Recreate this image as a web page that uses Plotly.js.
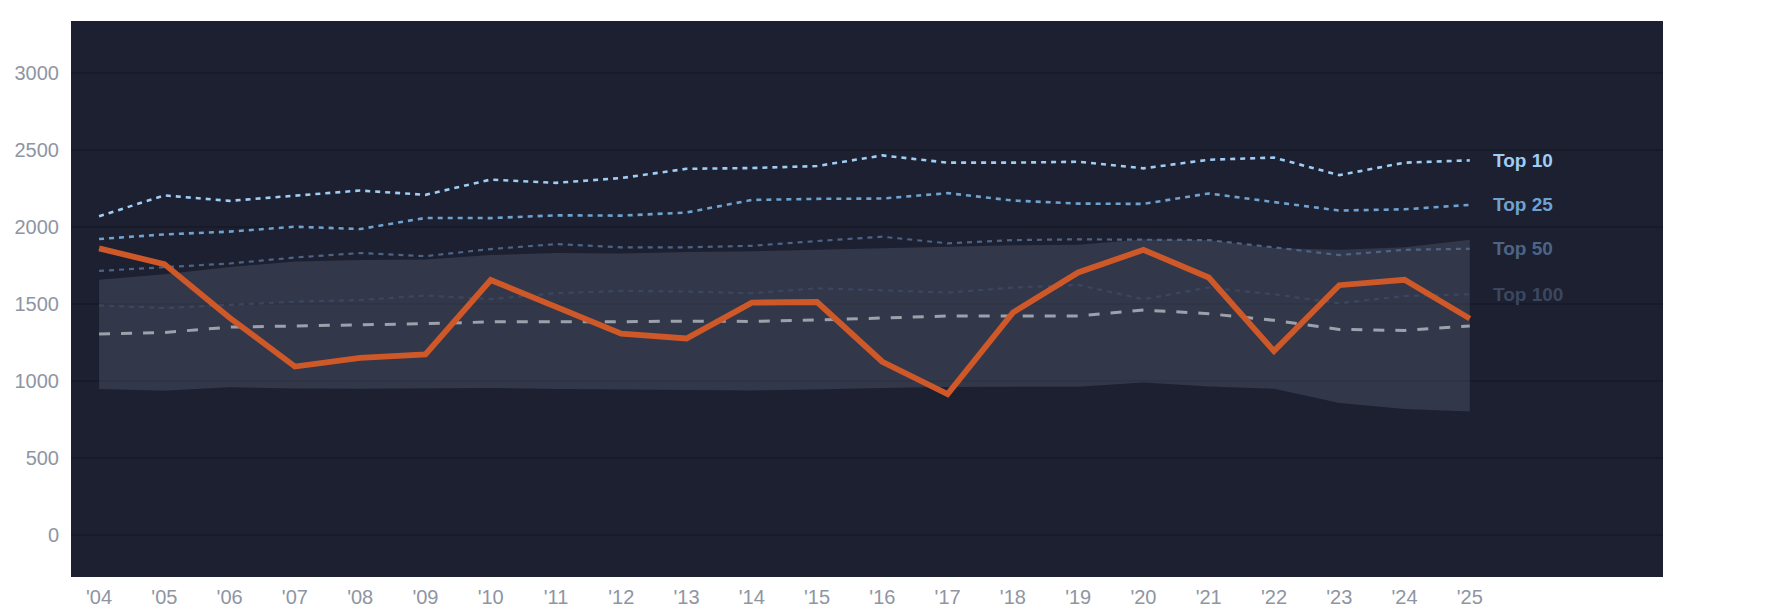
<!DOCTYPE html>
<html>
<head>
<meta charset="utf-8">
<script src="https://cdn.plot.ly/plotly-3.0.1.min.js"></script>
<style>
  html, body { margin: 0; padding: 0; background: #ffffff; }
  #chart { width: 1785px; height: 614px; }
</style>
</head>
<body>
<div id="chart"></div>
<script>
// data
const years = [2004, 2005, 2006, 2007, 2008, 2009, 2010, 2011, 2012, 2013, 2014,
               2015, 2016, 2017, 2018, 2019, 2020, 2021, 2022, 2023, 2024, 2025];
const yearLabels = ["'04", "'05", "'06", "'07", "'08", "'09", "'10", "'11", "'12", "'13", "'14",
                    "'15", "'16", "'17", "'18", "'19", "'20", "'21", "'22", "'23", "'24", "'25"];

const top10  = [2072, 2207, 2172, 2204, 2239, 2211, 2310, 2289, 2320, 2380, 2385,
                2398, 2467, 2420, 2420, 2426, 2383, 2439, 2453, 2339, 2420, 2435];
const top25  = [1924, 1954, 1972, 2004, 1989, 2061, 2060, 2078, 2076, 2096, 2178,
                2185, 2187, 2222, 2174, 2154, 2152, 2220, 2164, 2109, 2117, 2146];
const top50  = [1717, 1741, 1765, 1804, 1833, 1813, 1859, 1891, 1870, 1870, 1880,
                1911, 1939, 1896, 1917, 1922, 1920, 1917, 1870, 1820, 1854, 1861];
const top100 = [1493, 1476, 1496, 1517, 1528, 1557, 1534, 1572, 1587, 1583, 1572,
                1604, 1591, 1576, 1609, 1626, 1533, 1609, 1565, 1507, 1554, 1565];
const median = [1307, 1317, 1352, 1359, 1365, 1374, 1386, 1385, 1387, 1391, 1389,
                1398, 1409, 1424, 1424, 1424, 1463, 1439, 1396, 1337, 1330, 1359];
const bandLow  = [950, 939, 961, 954, 952, 954, 957, 950, 946, 943, 941,
                  946, 957, 963, 963, 965, 993, 967, 951, 859, 820, 804];
const bandHigh = [1659, 1696, 1743, 1778, 1787, 1791, 1820, 1834, 1830, 1840, 1845,
                  1855, 1866, 1876, 1883, 1887, 1922, 1917, 1866, 1855, 1870, 1920];
const player = [1863, 1761, 1413, 1096, 1152, 1174, 1658, 1485, 1309, 1278, 1511,
                1515, 1127, 917, 1446, 1707, 1854, 1674, 1196, 1624, 1659, 1407];

const tierNames  = ['Top 10', 'Top 25', 'Top 50', 'Top 100'];
const tierColors = ['#9fcdf3', '#6fa2cf', '#4e6486', '#3b4760'];
const tierWidths = [2.6, 2.6, 2.2, 2.2];
const tiers = [top10, top25, top50, top100];

var data = [];

// shaded range
data.push({
    x: years, y: bandLow, mode: 'lines', type: 'scatter',
    line: {width: 0, color: 'rgba(0,0,0,0)'},
    hoverinfo: 'skip', showlegend: false
});
data.push({
    x: years, y: bandHigh, mode: 'lines', type: 'scatter',
    fill: 'tonexty', fillcolor: 'rgba(72,77,97,0.5)',
    line: {width: 0, color: 'rgba(0,0,0,0)'},
    hoverinfo: 'skip', showlegend: false
});

// tier lines, drawn bottom first
for (let n = tiers.length - 1; n >= 0; n--) {
    data.push({
        x: years, y: tiers[n], mode: 'lines', type: 'scatter',
        line: {color: tierColors[n], width: tierWidths[n], dash: '5px,5px'},
        name: tierNames[n], showlegend: false
    });
}

data.push({
    x: years, y: median, mode: 'lines', type: 'scatter',
    line: {color: '#9ca2ac', width: 3, dash: '11px,11px'},
    name: 'Median', showlegend: false
});

data.push({
    x: years, y: player, mode: 'lines', type: 'scatter',
    line: {color: '#cf5829', width: 5.8},
    name: 'Player', showlegend: false
});

var annotations = tiers.map((t, n) => ({
    x: years[years.length - 1], y: t[t.length - 1],
    xref: 'x', yref: 'y', text: '<b>' + tierNames[n] + '</b>',
    showarrow: false, xanchor: 'left', yanchor: 'middle', xshift: 21,
    font: {family: 'Liberation Sans, Arial, sans-serif', size: 19, color: tierColors[n]}
}));

var layout = {
    width: 1785, height: 614,
    margin: {l: 71, r: 122, t: 21, b: 37},
    paper_bgcolor: '#ffffff',
    plot_bgcolor: '#1c2030',
    font: {family: 'Liberation Sans, Arial, sans-serif', size: 20, color: '#8e95a3'},
    showlegend: false,
    xaxis: {
        range: [2003.57, 2027.96],
        tickvals: years, ticktext: yearLabels,
        showgrid: false, zeroline: false, showline: false,
        ticks: '', ticklabelstandoff: 6,
        tickfont: {size: 20, color: '#8e95a3'}
    },
    yaxis: {
        range: [-271, 3340],
        tick0: 0, dtick: 500,
        showgrid: true, gridcolor: '#171a27', gridwidth: 2,
        zeroline: false, showline: false,
        ticks: '', ticklabelstandoff: 11,
        tickfont: {size: 20, color: '#8e95a3'}
    },
    annotations: annotations
};

Plotly.newPlot('chart', data, layout, {displayModeBar: false, staticPlot: true});
</script>
</body>
</html>
